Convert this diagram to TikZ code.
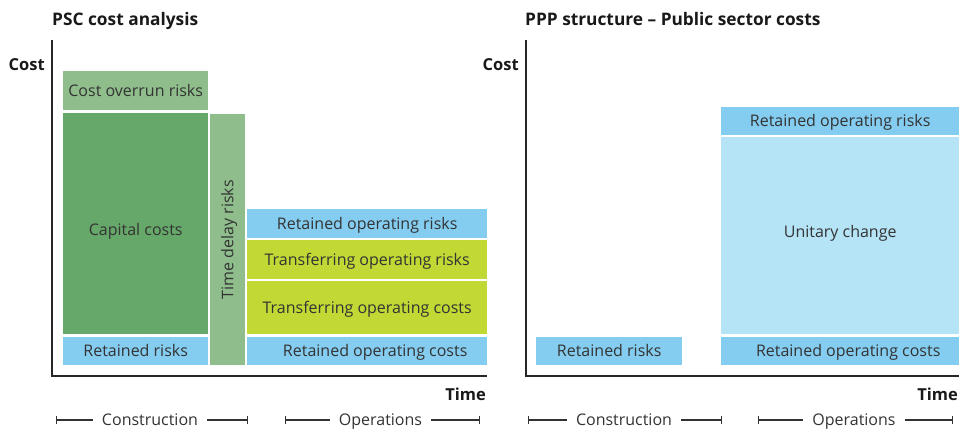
\documentclass[tikz,border=0pt]{standalone}
\usepackage{fontspec}
\setmainfont{Open Sans}
\usepackage{xcolor}
\usetikzlibrary{arrows.meta}

\definecolor{capitalGreen}{HTML}{66A86A}
\definecolor{riskGreen}{HTML}{8FBE8C}
\definecolor{retainedBlue}{HTML}{85CDF0}
\definecolor{transferLime}{HTML}{C2D834}
\definecolor{unitaryBlue}{HTML}{B6E4F7}
\definecolor{labelGray}{HTML}{333333}

\tikzset{
	costbox/.style = {anchor = north west, inner sep = 0pt, text = labelGray, font = \fontsize{16}{19}\selectfont, text height = 11.5pt, text depth = 0pt},
	heading/.style = {font = \bfseries\fontsize{17.3}{20}\selectfont, inner sep = 0pt, text = black!90},
	axislabel/.style = {font = \bfseries\fontsize{16.5}{20}\selectfont, inner sep = 0pt, text = black!90},
	axis/.style = {line width = 2.2pt, draw = black!85},
	phase/.style = {font = \fontsize{16}{19}\selectfont, text = labelGray, text height = 11.5pt, text depth = 0pt, inner sep = 9pt},
	span/.style = {line width = 1.3pt, draw = black!80},
}

\begin{document}
\begin{tikzpicture}[x = 1pt, y = -1pt]
	\def\axisTop{40};
	\def\axisBottom{376};
	\def\phaseY{420};
	\def\barW{8pt};

	\useasboundingbox (0,0) rectangle (959,429);

	% PSC cost analysis
	\begin{scope}
		\node [heading, anchor = base west] (pscTitle) at (52,25) {PSC cost analysis};
		\node [axislabel, anchor = base east] (pscCost) at (45,70) {Cost};
		\node [axislabel, anchor = base east] (pscTime) at (486,400) {Time};
		\coordinate (pscTop) at (52,\axisTop);
		\coordinate (pscOrigin) at (52,\axisBottom);
		\coordinate (pscEnd) at (487,\axisBottom);
		\draw [axis] (pscTop) -- (pscOrigin) -- (pscEnd);
	\end{scope}

	\begin{scope}
		\node [costbox, fill = riskGreen, minimum width = 145pt, minimum height = 39pt] (overrunRisks) at (63,71) {Cost overrun risks};
		\node [costbox, fill = capitalGreen, minimum width = 145pt, minimum height = 221pt, text height = 23.5pt] (capitalCosts) at (63,113) {Capital costs};
		\node [costbox, fill = retainedBlue, minimum width = 145pt, minimum height = 28pt] (pscRetainedRisks) at (63,337) {Retained risks};
		\node [costbox, fill = riskGreen, anchor = center, rotate = 90, minimum width = 251pt, minimum height = 35pt] (delayRisks) at (227.5,239.5) {Time delay risks};
	\end{scope}

	\begin{scope}
		\node [costbox, fill = retainedBlue, minimum width = 240pt, minimum height = 29pt] (pscOpRisks) at (247,209) {Retained operating risks};
		\node [costbox, fill = transferLime, minimum width = 240pt, minimum height = 39pt] (transferRisks) at (247,240) {Transferring operating risks};
		\node [costbox, fill = transferLime, minimum width = 240pt, minimum height = 53pt] (transferCosts) at (247,281) {Transferring operating costs};
		\node [costbox, fill = retainedBlue, minimum width = 240pt, minimum height = 28pt] (pscOpCosts) at (247,337) {\hspace*{16pt}Retained operating costs};
	\end{scope}

	\begin{scope}
		\coordinate (pscConStart) at (56,\phaseY);
		\coordinate (pscConEnd) at (248,\phaseY);
		\coordinate (pscOpStart) at (285,\phaseY);
		\coordinate (pscOpEnd) at (480,\phaseY);
		\node [phase] (pscConstruction) at (150,\phaseY) {Construction};
		\node [phase] (pscOperations) at (380.5,\phaseY) {Operations};
		\draw [span, {Bar[width = \barW]}-] (pscConStart) -- (pscConstruction);
		\draw [span, -{Bar[width = \barW]}] (pscConstruction) -- (pscConEnd);
		\draw [span, {Bar[width = \barW]}-] (pscOpStart) -- (pscOperations);
		\draw [span, -{Bar[width = \barW]}] (pscOperations) -- (pscOpEnd);
	\end{scope}

	% PPP structure
	\begin{scope}
		\node [heading, anchor = base west] (pppTitle) at (525,25) {PPP structure – Public sector costs};
		\node [axislabel, anchor = base east] (pppCost) at (519,70) {Cost};
		\node [axislabel, anchor = base east] (pppTime) at (958,400) {Time};
		\coordinate (pppTop) at (526,\axisTop);
		\coordinate (pppOrigin) at (526,\axisBottom);
		\coordinate (pppEnd) at (959,\axisBottom);
		\draw [axis] (pppTop) -- (pppOrigin) -- (pppEnd);
	\end{scope}

	\begin{scope}
		\node [costbox, fill = retainedBlue, minimum width = 146pt, minimum height = 28pt] (pppRetainedRisks) at (536,337) {Retained risks};
		\node [costbox, fill = retainedBlue, minimum width = 238pt, minimum height = 28pt] (pppOpRisks) at (721,107) {Retained operating risks};
		\node [costbox, fill = unitaryBlue, minimum width = 238pt, minimum height = 197pt, text depth = 7pt] (unitaryCharge) at (721,137) {Unitary change};
		\node [costbox, fill = retainedBlue, minimum width = 238pt, minimum height = 28pt] (pppOpCosts) at (721,337) {\hspace*{16pt}Retained operating costs};
	\end{scope}

	\begin{scope}
		\coordinate (pppConStart) at (528,\phaseY);
		\coordinate (pppConEnd) at (722,\phaseY);
		\coordinate (pppOpStart) at (758,\phaseY);
		\coordinate (pppOpEnd) at (953,\phaseY);
		\node [phase] (pppConstruction) at (624,\phaseY) {Construction};
		\node [phase] (pppOperations) at (854,\phaseY) {Operations};
		\draw [span, {Bar[width = \barW]}-] (pppConStart) -- (pppConstruction);
		\draw [span, -{Bar[width = \barW]}] (pppConstruction) -- (pppConEnd);
		\draw [span, {Bar[width = \barW]}-] (pppOpStart) -- (pppOperations);
		\draw [span, -{Bar[width = \barW]}] (pppOperations) -- (pppOpEnd);
	\end{scope}
\end{tikzpicture}
\end{document}
